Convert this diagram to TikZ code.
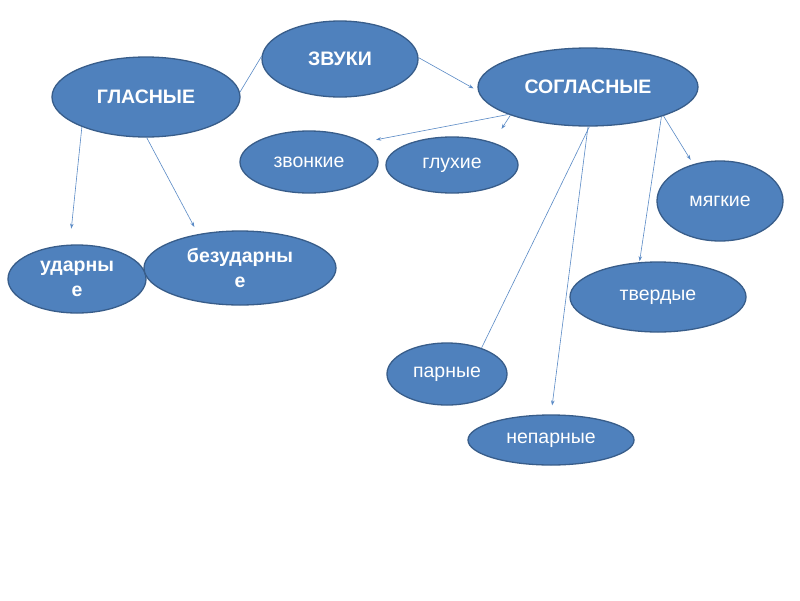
\documentclass[tikz,border=0pt]{standalone}
\usepackage{fontspec}
\setmainfont{Liberation Sans}
\usetikzlibrary{shapes.geometric,arrows.meta}
\definecolor{fillblue}{HTML}{4F81BD}
\definecolor{edgeblue}{HTML}{385D8A}
\definecolor{lineblue}{HTML}{5A8AC6}
\begin{document}
\begin{tikzpicture}[x=1pt,y=-1pt,
  oval/.style={ellipse,draw=edgeblue,line width=1.3pt,fill=fillblue,text=white,inner sep=0pt,font=\fontsize{19.5}{23}\selectfont,align=center},
  boldoval/.style={oval,font=\fontsize{19.5}{23}\selectfont\bfseries},
  twoline/.style={boldoval,font=\fontsize{19.5}{24.5}\selectfont\bfseries},
  conn/.style={draw=lineblue,line width=0.6pt},
  arr/.style={conn,-{Stealth[length=5pt,width=3.5pt]}}]
\fill[white] (0,0) rectangle (800,600);
\useasboundingbox (0,0) rectangle (800,600);
\node[boldoval,minimum width=156,minimum height=76] (zvuki) at (340,59) {ЗВУКИ};
\node[boldoval,minimum width=188,minimum height=80] (glas) at (146,97) {ГЛАСНЫЕ};
\node[boldoval,minimum width=220,minimum height=78] (sogl) at (588,87) {СОГЛАСНЫЕ};
\node[oval,minimum width=138,minimum height=62] (zvon) at (309,162) {звонкие};
\node[oval,minimum width=132,minimum height=56] (gluh) at (452,165) {глухие};
\node[oval,minimum width=126,minimum height=80] (myag) at (720,201) {мягкие};
\node[oval,minimum width=176,minimum height=70] (tverd) at (658,297) {твердые};
\node[oval,minimum width=120,minimum height=62] (par) at (447,374) {парные};
\node[oval,minimum width=166,minimum height=50] (nepar) at (551,440) {непарные};
\node[twoline,minimum width=138,minimum height=68] (udar) at (77,279) {ударны\\е};
\node[twoline,minimum width=192,minimum height=74] (bezudar) at (240,268) {безударны\\е};
% connectors
\draw[conn] (zvuki.178.5) -- (glas.3);
\draw[arr,shorten >=5pt] (zvuki.1) -- (sogl.182);
\draw[arr,shorten >=13pt] (sogl.199.3) -- (zvon.20);
\draw[arr,shorten >=16pt] (sogl.200.5) -- (gluh.29);
\draw[conn] (sogl.272) -- (par.37.6);
\draw[arr,shorten >=9pt] (sogl.270.5) -- (nepar.90);
\draw[arr,shorten >=1pt] (sogl.338.5) -- (tverd.118.5);
\draw[arr,shorten >=5pt] (sogl.339.5) -- (myag.126.9);
\draw[arr,shorten >=16pt] (glas.205.2) -- (udar.102.4);
\draw[arr,shorten >=8pt] (glas.271) -- (bezudar.141.6);
\end{tikzpicture}
\end{document}
